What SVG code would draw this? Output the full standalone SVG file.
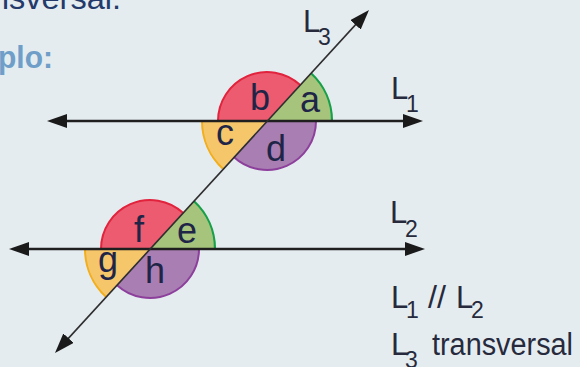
<svg xmlns="http://www.w3.org/2000/svg" width="580" height="367" viewBox="0 0 580 367">
  <defs>
    <marker id="arr" viewBox="0 0 20 14" refX="8" refY="7" markerWidth="20" markerHeight="14" markerUnits="userSpaceOnUse" orient="auto-start-reverse">
      <path d="M0,0 L20,7 L0,14 Z" fill="#1a1a1a"/>
    </marker>
  </defs>
  <style>
    .lbl { font-family: "Liberation Sans", Arial, sans-serif; font-size: 36px; fill: #1f2547; text-anchor: middle; }
    .L { font-family: "Liberation Sans", Arial, sans-serif; font-size: 31px; fill: #262a3c; }
    .sub { font-family: "Liberation Sans", Arial, sans-serif; font-size: 23px; fill: #262a3c; }
    .red { fill: #ec5b6f; } .redA { fill: none; stroke: #e2233d; stroke-width: 2; }
    .grn { fill: #a6c47b; } .grnA { fill: none; stroke: #17a04a; stroke-width: 2.2; }
    .yel { fill: #f5c66a; } .yelA { fill: none; stroke: #f2ae1c; stroke-width: 2; }
    .pur { fill: #a97eb2; } .purA { fill: none; stroke: #8d3f9c; stroke-width: 2; }
    .hline { stroke: #1f1f1f; stroke-width: 2.7; fill: none; }
    .tline { stroke: #2e2e2e; stroke-width: 1.6; fill: none; }
  </style>
  <rect x="0" y="0" width="580" height="367" fill="#e5ecf0"/>

  <text x="-9" y="9" font-family="Liberation Sans, Arial, sans-serif" font-size="32" fill="#233a6a" textLength="130" lengthAdjust="spacingAndGlyphs">nsversal.</text>
  <text x="-2" y="68" font-family="Liberation Sans, Arial, sans-serif" font-size="32" font-weight="bold" fill="#6f9fc8" textLength="55" lengthAdjust="spacingAndGlyphs">plo:</text>

  <g id="angles1">
    <path class="grn" d="M267,121 L332,121 A65,65 0 0 0 311.09,73.24 Z"/>
    <path class="red" d="M267,121 L300.24,85 A49,49 0 0 0 218,121 Z"/>
    <path class="yel" d="M267,121 L202,121 A65,65 0 0 0 222.91,168.76 Z"/>
    <path class="pur" d="M267,121 L233.76,157 A49,49 0 0 0 316,121 Z"/>
    <path class="grnA" d="M332,121 A65,65 0 0 0 311.09,73.24"/>
    <path class="redA" d="M300.24,85 A49,49 0 0 0 218,121"/>
    <path class="yelA" d="M202,121 A65,65 0 0 0 222.91,168.76"/>
    <path class="purA" d="M233.76,157 A49,49 0 0 0 316,121"/>
  </g>
  <g id="angles2">
    <path class="grn" d="M150,249 L215,249 A65,65 0 0 0 194.09,201.24 Z"/>
    <path class="red" d="M150,249 L183.24,213 A49,49 0 0 0 101,249 Z"/>
    <path class="yel" d="M150,249 L85,249 A65,65 0 0 0 105.91,296.76 Z"/>
    <path class="pur" d="M150,249 L116.76,285 A49,49 0 0 0 199,249 Z"/>
    <path class="grnA" d="M215,249 A65,65 0 0 0 194.09,201.24"/>
    <path class="redA" d="M183.24,213 A49,49 0 0 0 101,249"/>
    <path class="yelA" d="M85,249 A65,65 0 0 0 105.91,296.76"/>
    <path class="purA" d="M116.76,285 A49,49 0 0 0 199,249"/>
  </g>

  <g id="connectors">
    <line class="hline" x1="59" y1="121" x2="411" y2="121" marker-start="url(#arr)" marker-end="url(#arr)"/>
    <line class="hline" x1="21" y1="249" x2="413" y2="249" marker-start="url(#arr)" marker-end="url(#arr)"/>
    <line class="tline" x1="63.1" y1="344.1" x2="360.9" y2="18.9" marker-start="url(#arr)" marker-end="url(#arr)"/>
  </g>

  <g id="labels1">
    <text class="lbl" x="260" y="110">b</text>
    <text class="lbl" x="310" y="112">a</text>
    <text class="lbl" x="225" y="145">c</text>
    <text class="lbl" x="276" y="161">d</text>
  </g>
  <g id="labels2">
    <text class="lbl" x="139" y="242">f</text>
    <text class="lbl" x="187" y="243">e</text>
    <text class="lbl" x="108" y="272">g</text>
    <text class="lbl" x="155" y="283">h</text>
  </g>

  <g id="L3label"><text class="L" x="303" y="32">L</text><text class="sub" x="318" y="45">3</text></g>
  <g id="L1label"><text class="L" x="391" y="99">L</text><text class="sub" x="406" y="112">1</text></g>
  <g id="L2label"><text class="L" x="390" y="223">L</text><text class="sub" x="405" y="237">2</text></g>
  <g id="parallel">
    <text class="L" x="391" y="308">L</text><text class="sub" x="406" y="318">1</text>
    <text class="L" x="428" y="308" textLength="18" lengthAdjust="spacingAndGlyphs">//</text>
    <text class="L" x="456" y="308">L</text><text class="sub" x="471" y="318">2</text>
  </g>
  <g id="transversal">
    <text class="L" x="391" y="355">L</text><text class="sub" x="405" y="368">3</text>
    <text class="L" x="432" y="355" textLength="141" lengthAdjust="spacingAndGlyphs">transversal</text>
  </g>
</svg>
